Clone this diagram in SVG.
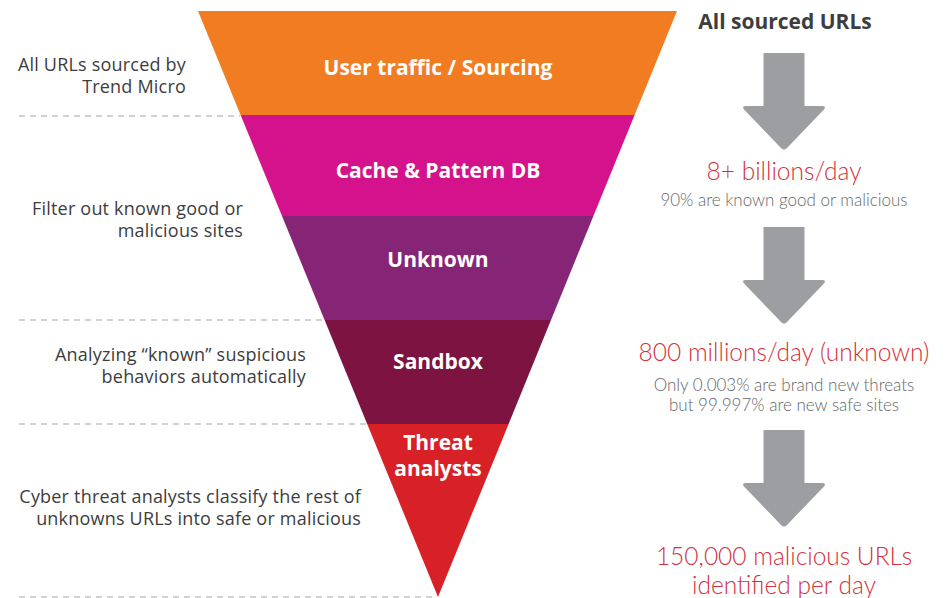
<svg xmlns="http://www.w3.org/2000/svg" width="948" height="598" viewBox="0 0 948 598">
<style>
.dash{stroke:#c4c4c4;stroke-width:1.3;stroke-dasharray:6 5;fill:none}
.lt{font-family:"Open Sans","Liberation Sans",Arial,sans-serif;font-size:18px;letter-spacing:0.2px;fill:#3d3d3d;text-anchor:end}
.fl{font-family:"Open Sans","Liberation Sans",sans-serif;font-weight:bold;font-size:21px;fill:#ffffff;text-anchor:middle}
.hd{font-family:"Open Sans","Liberation Sans",sans-serif;font-weight:bold;font-size:21px;fill:#3d3d3d;text-anchor:middle}
.rd{font-family:Lato,"Liberation Sans",sans-serif;font-weight:300;font-size:24.5px;fill:#d3313b;text-anchor:middle}
.gy{font-family:Lato,"Liberation Sans",sans-serif;font-weight:300;font-size:17px;fill:#666666;text-anchor:middle}
.arr{fill:#9d9ea1}
</style>
<defs>
<path id="arrow" d="M-20.5,0 H20.5 V53 H38 Q43,53 39.5,57 L3,95 Q0,98 -3,95 L-39.5,57 Q-43,53 -38,53 H-20.5 Z"/>
</defs>
<g id="dividers">
<line class="dash" x1="19" y1="116" x2="240" y2="116"/>
<line class="dash" x1="19" y1="320" x2="324" y2="320"/>
<line class="dash" x1="19" y1="424" x2="367" y2="424"/>
<line class="dash" x1="19" y1="597" x2="437" y2="597"/>
</g>
<g id="stage-sourcing">
<polygon points="198,11 677,11 634.6,115 240.6,115" fill="#f27c22"/>
<text class="fl" x="438" y="75">User traffic / Sourcing</text>
</g>
<g id="stage-cache">
<polygon points="240.6,115 634.6,115 593.4,216 282,216" fill="#d3128b"/>
<text class="fl" x="438" y="178">Cache &amp; Pattern DB</text>
</g>
<g id="stage-unknown">
<polygon points="282,216 593.4,216 551,320 324.6,320" fill="#862575"/>
<text class="fl" x="438" y="267">Unknown</text>
</g>
<g id="stage-sandbox">
<polygon points="324.6,320 551,320 508.6,424 367.2,424" fill="#7c1341"/>
<text class="fl" x="438" y="369">Sandbox</text>
</g>
<g id="stage-analysts">
<polygon points="367.2,424 508.6,424 438,597" fill="#d72127"/>
<text class="fl" x="438" y="450">Threat</text>
<text class="fl" x="438" y="476">analysts</text>
</g>
<g id="left-notes">
<text class="lt" x="186" y="71">All URLs sourced by</text>
<text class="lt" x="186" y="93">Trend Micro</text>
<text class="lt" x="243" y="215">Filter out known good or</text>
<text class="lt" x="243" y="237">malicious sites</text>
<text class="lt" x="306" y="361">Analyzing “known” suspicious</text>
<text class="lt" x="306" y="383">behaviors automatically</text>
<text class="lt" x="361" y="503">Cyber threat analysts classify the rest of</text>
<text class="lt" x="361" y="525">unknowns URLs into safe or malicious</text>
</g>
<g id="right-stats">
<text class="hd" x="785" y="29">All sourced URLs</text>
<use href="#arrow" class="arr" x="784" y="53"/>
<text class="rd" x="784" y="180">8+ billions/day</text>
<text class="gy" x="784" y="206">90% are known good or malicious</text>
<use href="#arrow" class="arr" x="784" y="227"/>
<text class="rd" x="784" y="361">800 millions/day (unknown)</text>
<text class="gy" x="784" y="391">Only 0.003% are brand new threats</text>
<text class="gy" x="784" y="411">but 99.997% are new safe sites</text>
<use href="#arrow" class="arr" x="784" y="430"/>
<text class="rd" x="784" y="565">150,000 malicious URLs</text>
<text class="rd" x="784" y="594">identified per day</text>
</g>
</svg>
